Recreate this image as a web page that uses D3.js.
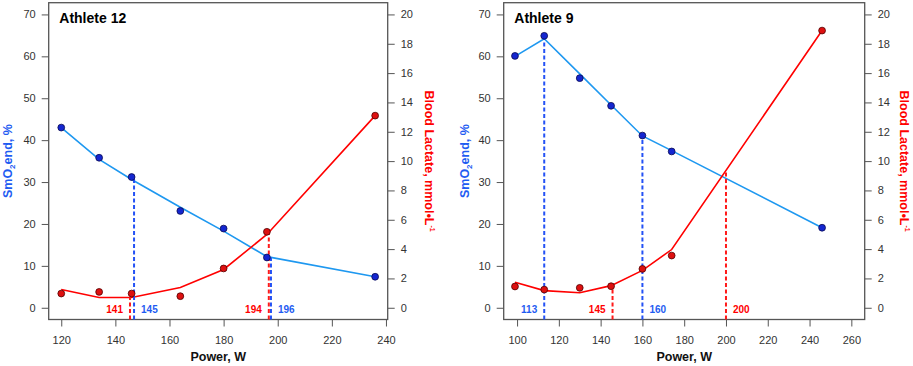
<!DOCTYPE html>
<html>
<head>
<meta charset="utf-8">
<script src="https://cdn.jsdelivr.net/npm/d3@7"></script>
<style>
  body { margin: 0; background: #fff; }
  svg { font-family: "Liberation Sans", Arial, sans-serif; }
  .tick text { fill: #333; font-size: 11px; }
  .tick line { stroke: #555; }
</style>
</head>
<body>
<div class="plot"></div>
<script>
// DATA - Athlete 12
var power12 = [120, 134, 146, 164, 180, 196, 236];
var smo2Pts12 = [43.0, 35.8, 31.2, 23.1, 18.9, 12.0, 7.4];
var smo2Fit12 = [43.0, 35.4, 30.6, 24.0, 18.3, 12.2, 7.4];
var lacPts12 = [0.97, 1.08, 0.97, 0.79, 2.68, 5.18, 13.1];
var lacFit12 = [1.25, 0.70, 0.70, 1.38, 2.61, 5.0, 13.1];
var thrPos12 = [145.4, 146.9, 196.7, 197.5];
var thrTop12 = [0.70, 31.2, 5.07, 12.0];
var thrLabel12 = ["141", "145", "194", "196"];
var thrKind12 = ["lac", "smo2", "lac", "smo2"];
var thrSide12 = ["left", "right", "left", "right"];
var xTicks12 = [120, 140, 160, 180, 200, 220, 240];

// DATA - Athlete 9
var power9 = [99, 113, 130, 145, 160, 174, 246];
var smo2Pts9 = [60.1, 64.9, 54.8, 48.2, 41.1, 37.3, 19.1];
var smo2Fit9 = [60.0, 64.2, 55.8, 48.4, 41.0, 37.5, 19.1];
var lacPts9 = [1.45, 1.24, 1.36, 1.47, 2.65, 3.56, 18.9];
var lacFit9 = [1.74, 1.17, 1.02, 1.51, 2.55, 3.97, 18.9];
var thrPos9 = [113, 145.7, 160, 200];
var thrTop9 = [64.9, 1.5, 41.1, 9.3];
var thrLabel9 = ["113", "145", "160", "200"];
var thrKind9 = ["smo2", "lac", "smo2", "lac"];
var thrSide9 = ["left", "left", "right", "right"];
var xTicks9 = [100, 120, 140, 160, 180, 200, 220, 240, 260];

var smo2Ticks = [0, 10, 20, 30, 40, 50, 60, 70];
var lacTicks = [0, 2, 4, 6, 8, 10, 12, 14, 16, 18, 20];

var w = 913;
var h = 366;
var plotTop = 2.7, plotBottom = 319.5;
var blueLine = "#1e98f0", blueText = "#1f5cf2", red = "#ff0000";

var svg = d3.select(".plot").append("svg").attr("width", w).attr("height", h);

function drawPanel(p) {
  var xScale = d3.scaleLinear().domain(p.xDomain).range([p.left, p.right]);
  var ySmo2 = d3.scaleLinear().domain([-2.8, 72.8]).range([plotBottom, plotTop]);
  var yLac = d3.scaleLinear().domain([-0.8, 20.8]).range([plotBottom, plotTop]);
  var g = svg.append("g");

  // AXES
  var xAxis = g.append("g")
    .attr("transform", "translate(0," + plotBottom + ")")
    .call(d3.axisBottom(xScale).tickValues(p.xTicks).tickSize(7).tickPadding(6));
  g.append("g")
    .attr("transform", "translate(" + p.left + ",0)")
    .call(d3.axisLeft(ySmo2).tickValues(smo2Ticks).tickSize(7).tickPadding(6));
  g.append("g")
    .attr("transform", "translate(" + p.right + ",0)")
    .call(d3.axisRight(yLac).tickValues(lacTicks).tickSize(7).tickPadding(6));
  g.selectAll(".domain").remove();
  xAxis.selectAll("text").attr("dy", "1.05em");

  // box
  g.append("rect")
    .attr("x", p.left).attr("y", plotTop)
    .attr("width", p.right - p.left).attr("height", plotBottom - plotTop)
    .attr("fill", "none").attr("stroke", "#555").attr("stroke-width", 1.3);

  // axis titles
  g.append("text")
    .attr("x", (p.left + p.right) / 2).attr("y", 361)
    .attr("text-anchor", "middle").attr("font-size", "12.5px").attr("font-weight", "bold")
    .attr("fill", "#111").text("Power, W");

  var tl = g.append("text")
    .attr("transform", "translate(" + p.titleL + "," + ((plotTop + plotBottom) / 2) + ") rotate(-90)")
    .attr("text-anchor", "middle").attr("dy", "0.35em")
    .attr("font-size", "12.5px").attr("font-weight", "bold").attr("fill", blueText);
  tl.append("tspan").text("SmO");
  tl.append("tspan").attr("font-size", "8px").attr("dy", "3").text("2");
  tl.append("tspan").attr("dy", "-3").text("end, %");

  var tr = g.append("text")
    .attr("transform", "translate(" + p.titleR + "," + ((plotTop + plotBottom) / 2) + ") rotate(90)")
    .attr("text-anchor", "middle").attr("dy", "0.35em")
    .attr("font-size", "12.5px").attr("font-weight", "bold").attr("fill", red);
  tr.append("tspan").text("Blood Lactate, mmol\u2022L");
  tr.append("tspan").attr("font-size", "7px").attr("dy", "-5").text("-1");

  // panel title
  g.append("text")
    .attr("x", p.left + 10.6).attr("y", 23)
    .attr("font-size", "14px").attr("font-weight", "bold").attr("fill", "#000")
    .text(p.title);

  // fitted lines
  var idx = d3.range(p.power.length);
  var lineSmo2 = d3.line().x(function (i) { return xScale(p.power[i]); })
    .y(function (i) { return ySmo2(p.smo2Fit[i]); });
  var lineLac = d3.line().x(function (i) { return xScale(p.power[i]); })
    .y(function (i) { return yLac(p.lacFit[i]); });
  g.append("path").attr("d", lineSmo2(idx)).attr("fill", "none")
    .attr("stroke", blueLine).attr("stroke-width", 1.6);
  g.append("path").attr("d", lineLac(idx)).attr("fill", "none")
    .attr("stroke", red).attr("stroke-width", 1.6);

  // threshold dashes
  g.selectAll(".thr")
    .data(d3.range(p.thrPos.length))
    .enter()
    .append("line")
    .attr("x1", function (i) { return xScale(p.thrPos[i]); })
    .attr("x2", function (i) { return xScale(p.thrPos[i]); })
    .attr("y1", plotBottom)
    .attr("y2", function (i) {
      return p.thrKind[i] === "lac" ? yLac(p.thrTop[i]) : ySmo2(p.thrTop[i]);
    })
    .attr("stroke", function (i) { return p.thrKind[i] === "lac" ? "#ff1a1a" : "#2452f5"; })
    .attr("stroke-width", 2)
    .attr("stroke-dasharray", "4,2.5");

  g.selectAll(".thrLabel")
    .data(d3.range(p.thrPos.length))
    .enter()
    .append("text")
    .attr("x", function (i) {
      return xScale(p.thrPos[i]) + (p.thrSide[i] === "left" ? -7 : 7);
    })
    .attr("y", 313)
    .attr("text-anchor", function (i) { return p.thrSide[i] === "left" ? "end" : "start"; })
    .attr("font-size", "10px").attr("font-weight", "bold")
    .attr("fill", function (i) { return p.thrKind[i] === "lac" ? red : blueText; })
    .text(function (i) { return p.thrLabel[i]; });

  // points
  g.selectAll(".smo2pt").data(idx).enter().append("circle")
    .attr("cx", function (i) { return xScale(p.power[i]); })
    .attr("cy", function (i) { return ySmo2(p.smo2Pts[i]); })
    .attr("r", 3.4)
    .attr("fill", "#1426d0").attr("stroke", "#0a0a50").attr("stroke-width", 0.8);
  g.selectAll(".lacpt").data(idx).enter().append("circle")
    .attr("cx", function (i) { return xScale(p.power[i]); })
    .attr("cy", function (i) { return yLac(p.lacPts[i]); })
    .attr("r", 3.4)
    .attr("fill", "#dd1010").attr("stroke", "#500000").attr("stroke-width", 0.8);
}

drawPanel({
  title: "Athlete 12", left: 48.7, right: 387.7, xDomain: [115.36, 240.64],
  xTicks: xTicks12, titleL: 7.5, titleR: 429.5,
  power: power12, smo2Pts: smo2Pts12, smo2Fit: smo2Fit12, lacPts: lacPts12, lacFit: lacFit12,
  thrPos: thrPos12, thrTop: thrTop12, thrLabel: thrLabel12, thrKind: thrKind12, thrSide: thrSide12
});

drawPanel({
  title: "Athlete 9", left: 503.7, right: 864.7, xDomain: [93.6, 266.4],
  xTicks: xTicks9, titleL: 464.7, titleR: 904.7,
  power: power9, smo2Pts: smo2Pts9, smo2Fit: smo2Fit9, lacPts: lacPts9, lacFit: lacFit9,
  thrPos: thrPos9, thrTop: thrTop9, thrLabel: thrLabel9, thrKind: thrKind9, thrSide: thrSide9
});
</script>
</body>
</html>
